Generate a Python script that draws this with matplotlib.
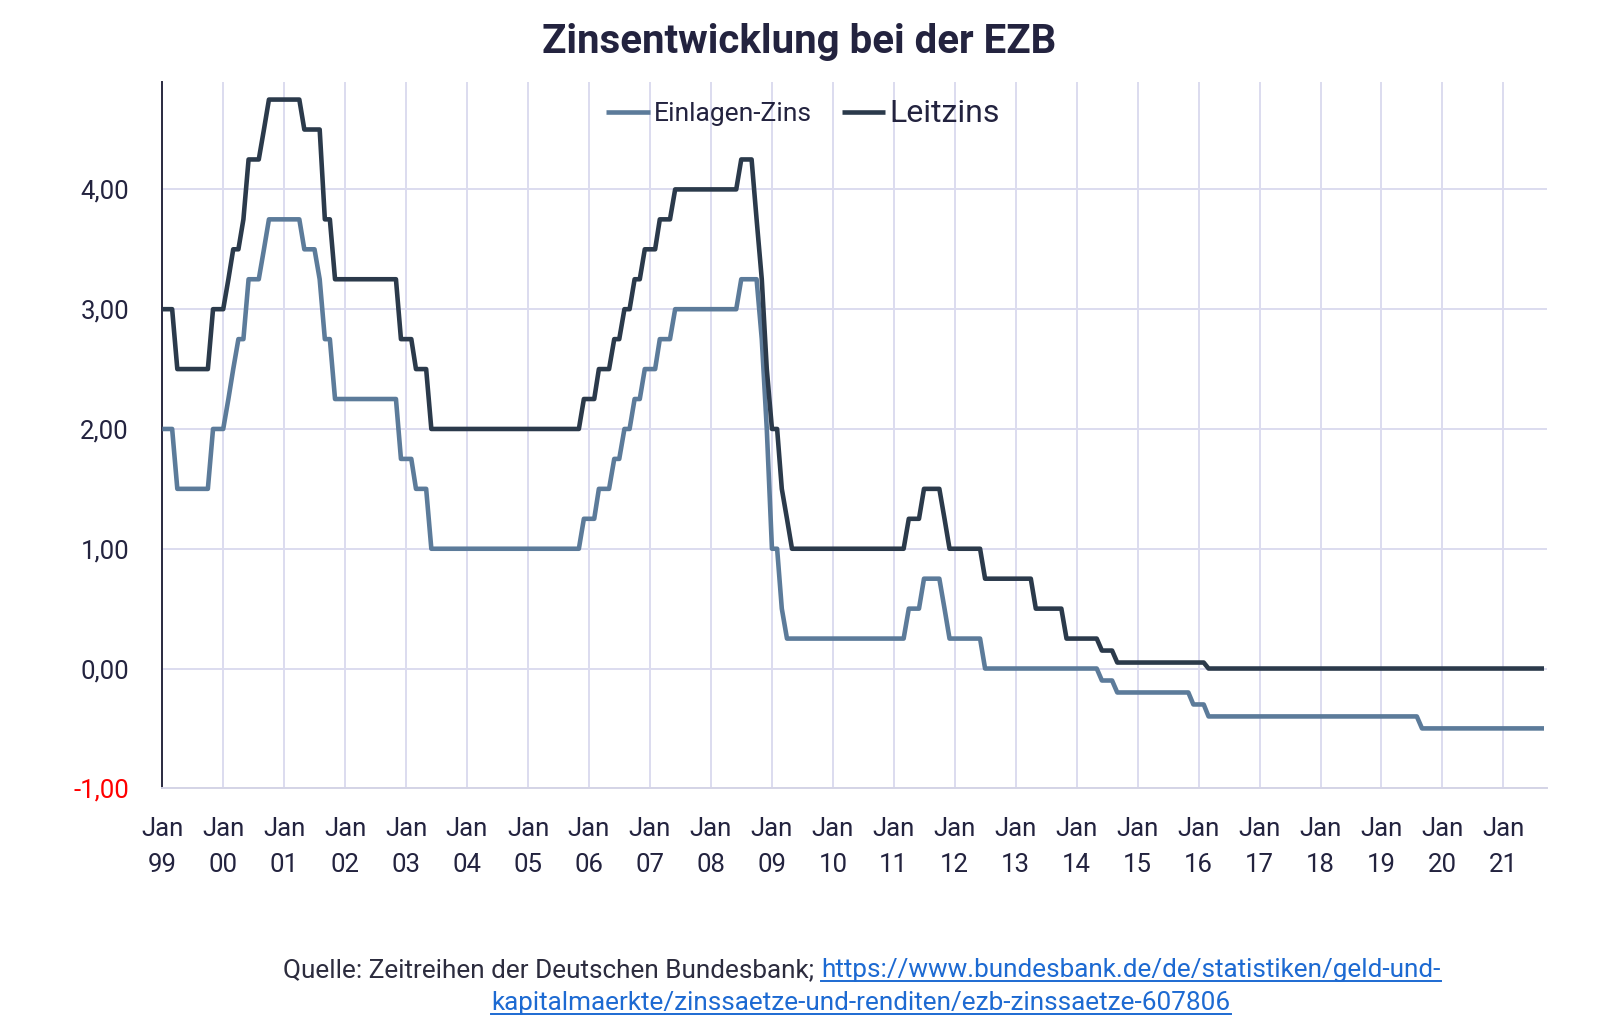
import matplotlib
matplotlib.use('Agg')
import matplotlib.pyplot as plt
from matplotlib.lines import Line2D
import pandas as pd

plt.rcParams['font.family'] = ['Roboto', 'DejaVu Sans']

# ---------------- data (monthly values, Jan 1999 - Sep 2021) ----------------
leitzins_1999 = [3.00, 3.00, 3.00, 2.50, 2.50, 2.50, 2.50, 2.50, 2.50, 2.50, 3.00, 3.00]
leitzins_2000 = [3.00, 3.25, 3.50, 3.50, 3.75, 4.25, 4.25, 4.25, 4.50, 4.75, 4.75, 4.75]
leitzins_2001 = [4.75, 4.75, 4.75, 4.75, 4.50, 4.50, 4.50, 4.50, 3.75, 3.75, 3.25, 3.25]
leitzins_2002 = [3.25, 3.25, 3.25, 3.25, 3.25, 3.25, 3.25, 3.25, 3.25, 3.25, 3.25, 2.75]
leitzins_2003 = [2.75, 2.75, 2.50, 2.50, 2.50, 2.00, 2.00, 2.00, 2.00, 2.00, 2.00, 2.00]
leitzins_2004 = [2.00, 2.00, 2.00, 2.00, 2.00, 2.00, 2.00, 2.00, 2.00, 2.00, 2.00, 2.00]
leitzins_2005 = [2.00, 2.00, 2.00, 2.00, 2.00, 2.00, 2.00, 2.00, 2.00, 2.00, 2.00, 2.25]
leitzins_2006 = [2.25, 2.25, 2.50, 2.50, 2.50, 2.75, 2.75, 3.00, 3.00, 3.25, 3.25, 3.50]
leitzins_2007 = [3.50, 3.50, 3.75, 3.75, 3.75, 4.00, 4.00, 4.00, 4.00, 4.00, 4.00, 4.00]
leitzins_2008 = [4.00, 4.00, 4.00, 4.00, 4.00, 4.00, 4.25, 4.25, 4.25, 3.75, 3.25, 2.50]
leitzins_2009 = [2.00, 2.00, 1.50, 1.25, 1.00, 1.00, 1.00, 1.00, 1.00, 1.00, 1.00, 1.00]
leitzins_2010 = [1.00, 1.00, 1.00, 1.00, 1.00, 1.00, 1.00, 1.00, 1.00, 1.00, 1.00, 1.00]
leitzins_2011 = [1.00, 1.00, 1.00, 1.25, 1.25, 1.25, 1.50, 1.50, 1.50, 1.50, 1.25, 1.00]
leitzins_2012 = [1.00, 1.00, 1.00, 1.00, 1.00, 1.00, 0.75, 0.75, 0.75, 0.75, 0.75, 0.75]
leitzins_2013 = [0.75, 0.75, 0.75, 0.75, 0.50, 0.50, 0.50, 0.50, 0.50, 0.50, 0.25, 0.25]
leitzins_2014 = [0.25, 0.25, 0.25, 0.25, 0.25, 0.15, 0.15, 0.15, 0.05, 0.05, 0.05, 0.05]
leitzins_2015 = [0.05, 0.05, 0.05, 0.05, 0.05, 0.05, 0.05, 0.05, 0.05, 0.05, 0.05, 0.05]
leitzins_2016 = [0.05, 0.05, 0.00, 0.00, 0.00, 0.00, 0.00, 0.00, 0.00, 0.00, 0.00, 0.00]
leitzins_2017 = [0.00, 0.00, 0.00, 0.00, 0.00, 0.00, 0.00, 0.00, 0.00, 0.00, 0.00, 0.00]
leitzins_2018 = [0.00, 0.00, 0.00, 0.00, 0.00, 0.00, 0.00, 0.00, 0.00, 0.00, 0.00, 0.00]
leitzins_2019 = [0.00, 0.00, 0.00, 0.00, 0.00, 0.00, 0.00, 0.00, 0.00, 0.00, 0.00, 0.00]
leitzins_2020 = [0.00, 0.00, 0.00, 0.00, 0.00, 0.00, 0.00, 0.00, 0.00, 0.00, 0.00, 0.00]
leitzins_2021 = [0.00, 0.00, 0.00, 0.00, 0.00, 0.00, 0.00, 0.00, 0.00]

einlagen_1999 = [2.00, 2.00, 2.00, 1.50, 1.50, 1.50, 1.50, 1.50, 1.50, 1.50, 2.00, 2.00]
einlagen_2000 = [2.00, 2.25, 2.50, 2.75, 2.75, 3.25, 3.25, 3.25, 3.50, 3.75, 3.75, 3.75]
einlagen_2001 = [3.75, 3.75, 3.75, 3.75, 3.50, 3.50, 3.50, 3.25, 2.75, 2.75, 2.25, 2.25]
einlagen_2002 = [2.25, 2.25, 2.25, 2.25, 2.25, 2.25, 2.25, 2.25, 2.25, 2.25, 2.25, 1.75]
einlagen_2003 = [1.75, 1.75, 1.50, 1.50, 1.50, 1.00, 1.00, 1.00, 1.00, 1.00, 1.00, 1.00]
einlagen_2004 = [1.00, 1.00, 1.00, 1.00, 1.00, 1.00, 1.00, 1.00, 1.00, 1.00, 1.00, 1.00]
einlagen_2005 = [1.00, 1.00, 1.00, 1.00, 1.00, 1.00, 1.00, 1.00, 1.00, 1.00, 1.00, 1.25]
einlagen_2006 = [1.25, 1.25, 1.50, 1.50, 1.50, 1.75, 1.75, 2.00, 2.00, 2.25, 2.25, 2.50]
einlagen_2007 = [2.50, 2.50, 2.75, 2.75, 2.75, 3.00, 3.00, 3.00, 3.00, 3.00, 3.00, 3.00]
einlagen_2008 = [3.00, 3.00, 3.00, 3.00, 3.00, 3.00, 3.25, 3.25, 3.25, 3.25, 2.75, 2.00]
einlagen_2009 = [1.00, 1.00, 0.50, 0.25, 0.25, 0.25, 0.25, 0.25, 0.25, 0.25, 0.25, 0.25]
einlagen_2010 = [0.25, 0.25, 0.25, 0.25, 0.25, 0.25, 0.25, 0.25, 0.25, 0.25, 0.25, 0.25]
einlagen_2011 = [0.25, 0.25, 0.25, 0.50, 0.50, 0.50, 0.75, 0.75, 0.75, 0.75, 0.50, 0.25]
einlagen_2012 = [0.25, 0.25, 0.25, 0.25, 0.25, 0.25, 0.00, 0.00, 0.00, 0.00, 0.00, 0.00]
einlagen_2013 = [0.00, 0.00, 0.00, 0.00, 0.00, 0.00, 0.00, 0.00, 0.00, 0.00, 0.00, 0.00]
einlagen_2014 = [0.00, 0.00, 0.00, 0.00, 0.00, -0.10, -0.10, -0.10, -0.20, -0.20, -0.20, -0.20]
einlagen_2015 = [-0.20, -0.20, -0.20, -0.20, -0.20, -0.20, -0.20, -0.20, -0.20, -0.20, -0.20, -0.30]
einlagen_2016 = [-0.30, -0.30, -0.40, -0.40, -0.40, -0.40, -0.40, -0.40, -0.40, -0.40, -0.40, -0.40]
einlagen_2017 = [-0.40, -0.40, -0.40, -0.40, -0.40, -0.40, -0.40, -0.40, -0.40, -0.40, -0.40, -0.40]
einlagen_2018 = [-0.40, -0.40, -0.40, -0.40, -0.40, -0.40, -0.40, -0.40, -0.40, -0.40, -0.40, -0.40]
einlagen_2019 = [-0.40, -0.40, -0.40, -0.40, -0.40, -0.40, -0.40, -0.40, -0.50, -0.50, -0.50, -0.50]
einlagen_2020 = [-0.50, -0.50, -0.50, -0.50, -0.50, -0.50, -0.50, -0.50, -0.50, -0.50, -0.50, -0.50]
einlagen_2021 = [-0.50, -0.50, -0.50, -0.50, -0.50, -0.50, -0.50, -0.50, -0.50]

leitzins = (leitzins_1999 + leitzins_2000 + leitzins_2001 + leitzins_2002 + leitzins_2003 +
            leitzins_2004 + leitzins_2005 + leitzins_2006 + leitzins_2007 + leitzins_2008 +
            leitzins_2009 + leitzins_2010 + leitzins_2011 + leitzins_2012 + leitzins_2013 +
            leitzins_2014 + leitzins_2015 + leitzins_2016 + leitzins_2017 + leitzins_2018 +
            leitzins_2019 + leitzins_2020 + leitzins_2021)
einlagen = (einlagen_1999 + einlagen_2000 + einlagen_2001 + einlagen_2002 + einlagen_2003 +
            einlagen_2004 + einlagen_2005 + einlagen_2006 + einlagen_2007 + einlagen_2008 +
            einlagen_2009 + einlagen_2010 + einlagen_2011 + einlagen_2012 + einlagen_2013 +
            einlagen_2014 + einlagen_2015 + einlagen_2016 + einlagen_2017 + einlagen_2018 +
            einlagen_2019 + einlagen_2020 + einlagen_2021)

tick_years = ['99', '00', '01', '02', '03', '04', '05', '06', '07', '08', '09', '10',
              '11', '12', '13', '14', '15', '16', '17', '18', '19', '20', '21']
y_ticks = [-1, 0, 1, 2, 3, 4]

title = 'Zinsentwicklung bei der EZB'
label_ein = 'Einlagen-Zins'
label_leit = 'Leitzins'
src_gray = 'Quelle: Zeitreihen der Deutschen Bundesbank;'
src_link1 = 'https://www.bundesbank.de/de/statistiken/geld-und-'
src_link2 = 'kapitalmaerkte/zinssaetze-und-renditen/ezb-zinssaetze-607806'

# ---------------- style ----------------
C_EIN = '#5c7b9a'
C_LEIT = '#2b3a4b'
C_TEXT = '#23233f'
C_GRID = '#dcdcef'
C_LINK = '#1d6ad2'
C_SRC = '#2c2c3e'

W, H = 1599, 1033
fig = plt.figure(figsize=(W / 100, H / 100), dpi=100)
ax_l, ax_r, ax_b, ax_t = 162.3, 1547.0, 788.3, 81.6
ax = fig.add_axes([ax_l / W, 1 - ax_b / H, (ax_r - ax_l) / W, (ax_b - ax_t) / H])

dates = pd.date_range('1999-01-01', periods=len(leitzins), freq='MS')
ax.plot(dates, einlagen, color=C_EIN, lw=3.3, solid_joinstyle='round',
        solid_capstyle='butt', label=label_ein, zorder=3)
ax.plot(dates, leitzins, color=C_LEIT, lw=3.3, solid_joinstyle='round',
        solid_capstyle='butt', label=label_leit, zorder=4)

ax.set_ylim(-1, 4.9)
ax.set_xlim(pd.Timestamp('1999-01-01'), pd.Timestamp('2021-09-19'))

xt = pd.date_range('1999-01-01', periods=len(tick_years), freq='12MS')
ax.set_xticks(xt)
ax.set_xticklabels(['Jan\n' + y for y in tick_years], fontsize=18.5, color=C_TEXT,
                   linespacing=1.62)
ax.set_yticks(y_ticks)
ax.set_yticklabels([f'{v:.2f}'.replace('.', ',') for v in y_ticks], fontsize=18.5,
                   color=C_TEXT)
ax.get_yticklabels()[0].set_color('#ff0000')
ax.tick_params(axis='x', length=0, pad=21)
ax.tick_params(axis='y', length=0, pad=24)

ax.grid(True, color=C_GRID, lw=1.4)
ax.set_axisbelow(True)
for s in ['top', 'right']:
    ax.spines[s].set_visible(False)
ax.spines['left'].set_color('#2a2a40')
ax.spines['left'].set_linewidth(1.4)
ax.spines['bottom'].set_color('#d4d4e6')
ax.spines['bottom'].set_linewidth(1.4)

leg = ax.legend(loc='center', bbox_to_anchor=(803 / W, 1 - 113 / H),
                bbox_transform=fig.transFigure, ncol=2, frameon=False,
                fontsize=19, handlelength=1.65, handletextpad=0.15,
                columnspacing=1.15, labelcolor=C_TEXT)
leg.get_texts()[1].set_fontsize(23)

fig.text(0.5, 1 - 42 / H, title, ha='center', va='center', fontsize=29,
         fontweight='bold', color=C_TEXT)

# ---------------- source line ----------------
FS_SRC = 18.8
t1 = fig.text(0, 0, src_gray, fontsize=FS_SRC, fontweight='normal', color=C_SRC,
              va='baseline', ha='left')
t2 = fig.text(0, 0, src_link1, fontsize=FS_SRC, fontweight='normal', color=C_LINK,
              va='baseline', ha='left')
t3 = fig.text(861 / W, 1 - 1010 / H, src_link2, fontsize=FS_SRC, fontweight='normal',
              color=C_LINK, va='baseline', ha='center')
fig.canvas.draw()
r = fig.canvas.get_renderer()
w1 = t1.get_window_extent(r).width
w2 = t2.get_window_extent(r).width
gap = 7
x0 = 862 - (w1 + gap + w2) / 2
base1 = H - 977
t1.set_position((x0 / W, base1 / H))
t2.set_position(((x0 + w1 + gap) / W, base1 / H))
fig.canvas.draw()
for t in (t2, t3):
    bb = t.get_window_extent(r)
    yb = (t.get_position()[1] * H) - 4
    fig.add_artist(Line2D([bb.x0 / W, bb.x1 / W], [yb / H, yb / H],
                          transform=fig.transFigure, color=C_LINK, lw=1.4))

fig.savefig('out.png', dpi=100)
